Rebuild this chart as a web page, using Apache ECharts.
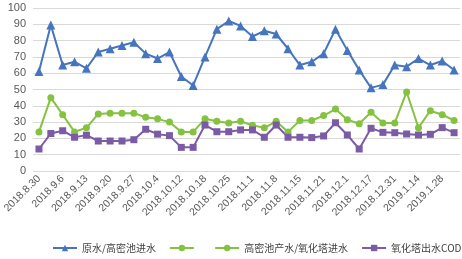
<!DOCTYPE html>
<html>
<head>
<meta charset="utf-8">
<script src="https://cdn.jsdelivr.net/npm/echarts@6/dist/echarts.min.js"></script>
<style>
  html, body { margin: 0; padding: 0; background: #fff; }
  #chart { width: 462px; height: 259px; }
</style>
</head>
<body>
<div id="chart"></div>
<script>
// 采样日期（偶数位带标签）
const dates = [
  '2018.8.30', '2018.9.3', '2018.9.6', '2018.9.10', '2018.9.13', '2018.9.17',
  '2018.9.20', '2018.9.24', '2018.9.27', '2018.10.1', '2018.10.4', '2018.10.8',
  '2018.10.12', '2018.10.15', '2018.10.18', '2018.10.22', '2018.10.25', '2018.10.29',
  '2018.11.1', '2018.11.5', '2018.11.8', '2018.11.12', '2018.11.15', '2018.11.18',
  '2018.11.21', '2018.11.26', '2018.12.1', '2018.12.10', '2018.12.17', '2018.12.24',
  '2018.12.31', '2019.1.7', '2019.1.14', '2019.1.21', '2019.1.28', '2019.2.4'
]
const rawWater = [61, 89.5, 65, 67, 63, 73, 75, 77, 79, 72, 69, 73, 58, 52.5, 70, 87, 92, 89,
  82.5, 86, 84, 75, 65, 67, 72, 87, 74, 62, 51, 53, 65, 64, 69, 65, 67.5, 62]
const denseOut = [24, 45, 34.5, 24, 26.5, 35, 35.5, 35.5, 35.5, 33, 32, 30, 24, 24, 32, 30.5, 29.5, 30.5,
  28, 26.5, 30.5, 24, 31, 31, 34, 38, 31.5, 29, 36, 29.5, 29.5, 48.5, 26.5, 37, 34.5, 31]
const towerOut = [13.5, 23, 24.7, 20.7, 22, 18.4, 18.4, 18.4, 19.2, 25.6, 22.6, 21.7, 14.5, 14.5, 28.2, 24.1, 24.1, 25.2,
  25.2, 20.7, 28.2, 20.7, 20.7, 20.5, 21.5, 29.6, 22.1, 13.5, 26.2, 23.7, 23.5, 22.7, 22.1, 22.5, 26.6, 23.5]
const yTicks = { min: 0, max: 100, interval: 10 }

const names = ['原水/高密池进水', ' ', '高密池产水/氧化塔进水', '氧化塔出水COD']
const blue = '#4674BE'
const green = '#84C23F'
const purple = '#7B5BA6'

const myChart = echarts.init(document.getElementById('chart'))
myChart.setOption({
  backgroundColor: '#fff',
  animation: false,
  grid: { left: 28, right: 2, top: 8, bottom: 88 },
  legend: {
    data: names,
    orient: 'horizontal',
    bottom: 6,
    left: 52,
    right: 0,
    padding: 0,
    itemWidth: 24,
    itemHeight: 8,
    itemGap: 13,
    textStyle: { fontSize: 10, color: '#404040', fontFamily: 'Noto Sans CJK SC' }
  },
  xAxis: {
    type: 'category',
    data: dates,
    axisTick: { show: false },
    axisLine: { show: false },
    axisLabel: { interval: 1, rotate: 45, fontSize: 10.5, color: '#595959', fontFamily: 'Liberation Sans', margin: 6 }
  },
  yAxis: {
    type: 'value',
    min: yTicks.min,
    max: yTicks.max,
    interval: yTicks.interval,
    axisLabel: { fontSize: 11, color: '#595959', fontFamily: 'Liberation Sans', margin: 7 },
    splitLine: { lineStyle: { color: '#D9D9D9', width: 1 } }
  },
  series: [
    {
      name: names[0], type: 'line', data: rawWater, showAllSymbol: true,
      symbol: 'triangle', symbolSize: 9,
      lineStyle: { color: blue, width: 2 }, itemStyle: { color: blue }
    },
    {
      name: names[1], type: 'line', data: [],
      symbol: 'circle', symbolSize: 7,
      lineStyle: { color: green, width: 2 }, itemStyle: { color: green }
    },
    {
      name: names[2], type: 'line', data: denseOut, showAllSymbol: true,
      symbol: 'circle', symbolSize: 7,
      lineStyle: { color: green, width: 2 }, itemStyle: { color: green }
    },
    {
      name: names[3], type: 'line', data: towerOut, showAllSymbol: true,
      symbol: 'rect', symbolSize: 7,
      lineStyle: { color: purple, width: 2 }, itemStyle: { color: purple }
    }
  ]
})
window.addEventListener('resize', () => { myChart.resize() })
</script>
</body>
</html>
